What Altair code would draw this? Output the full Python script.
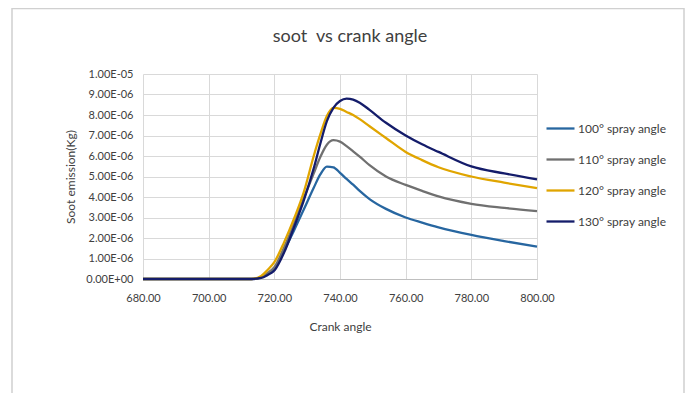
import altair as alt
import pandas as pd

# Crank angle (deg) and soot emission (in units of 1e-6 Kg)
angles = [680, 700, 710, 713, 716, 718, 720, 723, 726, 729, 732, 734, 736, 738,
          740, 742, 744, 746, 749, 754, 760, 765, 770, 780, 790, 800]
soot_100 = [0, 0, 0, 0, 0.08, 0.25, 0.49, 1.39, 2.37, 3.4, 4.45, 5.1, 5.48, 5.45,
            5.18, 4.88, 4.6, 4.3, 3.9, 3.42, 3.0, 2.75, 2.52, 2.15, 1.85, 1.58]
soot_110 = [0, 0, 0, 0, 0.1, 0.3, 0.57, 1.55, 2.7, 3.95, 5.15, 5.95, 6.55, 6.77,
            6.7, 6.48, 6.23, 5.97, 5.55, 5.0, 4.59, 4.3, 4.03, 3.67, 3.47, 3.31]
soot_120 = [0, 0, 0, 0, 0.15, 0.45, 0.82, 1.8, 2.94, 4.25, 6.0, 7.05, 7.95, 8.35,
            8.3, 8.15, 8.0, 7.8, 7.45, 6.88, 6.2, 5.8, 5.45, 5.0, 4.7, 4.43]
soot_130 = [0, 0, 0, 0, 0.05, 0.2, 0.41, 1.3, 2.53, 3.85, 5.4, 6.6, 7.7, 8.35,
            8.68, 8.8, 8.75, 8.6, 8.25, 7.62, 7.0, 6.57, 6.2, 5.49, 5.15, 4.86]

series_names = ["100° spray angle", "110° spray angle", "120° spray angle", "130° spray angle"]
series_colors = ["#2766A0", "#707070", "#E0A500", "#141C6A"]
x_ticks = [680, 700, 720, 740, 760, 780, 800]
y_ticks = [0, 1, 2, 3, 4, 5, 6, 7, 8, 9, 10]
title_text = "soot\u00a0 vs crank angle"

rows = []
for name, vals in zip(series_names, [soot_100, soot_110, soot_120, soot_130]):
    for a, v in zip(angles, vals):
        rows.append({"angle": a, "soot": v, "series": name})
df = pd.DataFrame(rows)

FONT = "Lato"

lines = alt.Chart(df).mark_line(strokeWidth=2.3, interpolate="monotone").encode(
    x=alt.X("angle:Q",
            scale=alt.Scale(domain=[680, 800], nice=False, zero=False),
            axis=alt.Axis(values=x_ticks, labelExpr="format(datum.value, '.2f')",
                          title="Crank angle", ticks=False, domain=True,
                          domainColor="#BFBFBF", gridColor="#D9D9D9",
                          labelFlush=False, labelOverlap=False,
                          labelPadding=13, titlePadding=18,
                          labelFontSize=11, titleFontSize=12,
                          labelColor="#404040", titleColor="#404040",
                          titleFontWeight="normal")),
    y=alt.Y("soot:Q",
            scale=alt.Scale(domain=[0, 10], nice=False),
            axis=alt.Axis(values=y_ticks,
                          labelExpr="datum.value == 0 ? '0.00E+00' : (datum.value == 10 ? '1.00E-05' : format(datum.value, '.2f') + 'E-06')",
                          title="Soot emission(Kg)", ticks=False, domain=False,
                          gridColor="#D9D9D9", labelPadding=10, titlePadding=8,
                          labelFontSize=11, titleFontSize=12,
                          labelColor="#404040", titleColor="#404040",
                          titleFontWeight="normal")),
    color=alt.Color("series:N",
                    scale=alt.Scale(domain=series_names, range=series_colors),
                    legend=alt.Legend(title=None, orient="none", legendX=402, legendY=39,
                                      symbolType="stroke", symbolSize=784,
                                      symbolStrokeWidth=2.3, rowPadding=9,
                                      labelOffset=2, labelFontSize=12,
                                      labelColor="#404040", padding=0)),
)

frame = alt.Chart(pd.DataFrame({"a": [0]})).mark_rect(
    fill=None, stroke="#D0D0D0", strokeWidth=1.5
).encode(
    x=alt.value(-131), x2=alt.value(541), y=alt.value(-65.5), y2=alt.value(330)
)

title = alt.Chart(pd.DataFrame({"t": [title_text]})).mark_text(
    fontSize=18, font=FONT, color="#404040", align="center", baseline="middle"
).encode(text="t:N", x=alt.value(207), y=alt.value(-37))

chart = alt.layer(frame, lines, title).properties(
    width=394, height=205,
    autosize=alt.AutoSizeParams(type="none"),
    padding={"left": 135, "top": 66, "right": 148, "bottom": 114},
).configure(font=FONT).configure_view(stroke=None)

chart.save("out.html", embed_options={"renderer": "svg", "actions": False})
